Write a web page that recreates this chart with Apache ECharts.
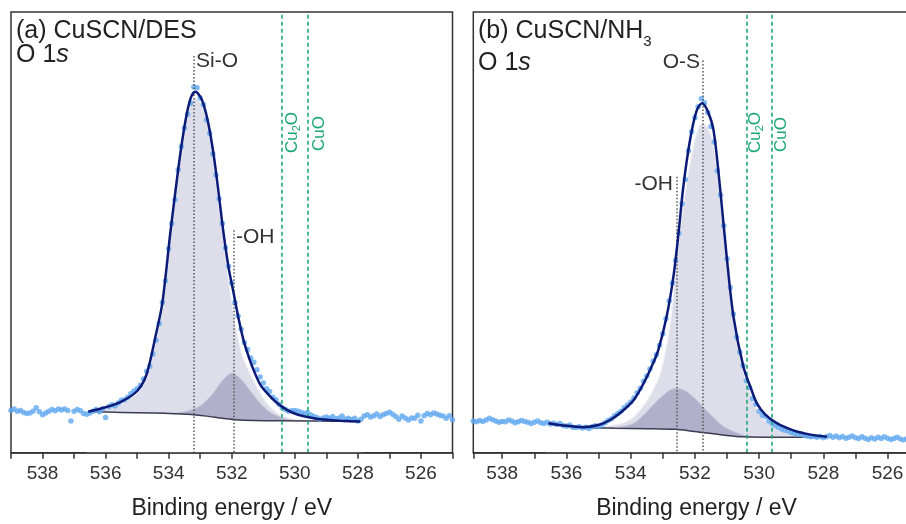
<!DOCTYPE html>
<html>
<head>
<meta charset="utf-8">
<script src="https://cdn.jsdelivr.net/npm/echarts@6/dist/echarts.min.js"></script>
<style>
html,body{margin:0;padding:0;background:#fff;}
#chart{width:906px;height:524px;}
</style>
</head>
<body>
<div id="chart"></div>
<script>
// ---------- DATA (binding energy eV, intensity a.u.) ----------
const tickLabels = [538, 536, 534, 532, 530, 528, 526];

// Panel (a) CuSCN/DES - measured points
const pointsA = [
[539.0,9.6],[538.9,9.9],[538.8,9.4],[538.7,9.6],[538.6,9.1],[538.5,8.9],[538.4,9.0],[538.3,9.4],[538.2,10.2],[538.1,9.3],
[538.0,8.6],[537.9,9.0],[537.8,9.4],[537.7,9.8],[537.6,9.5],[537.5,9.9],[537.4,9.7],[537.3,9.9],[537.2,9.6],[537.1,7.2],
[537.0,9.4],[536.9,9.8],[536.8,9.5],[536.7,8.9],[536.6,8.7],[536.5,9.0],[536.4,9.4],[536.3,9.8],[536.2,9.3],[536.1,9.9],
[536.0,8.0],[535.9,10.4],[535.8,10.9],[535.7,10.6],[535.6,11.3],[535.5,11.9],[535.4,12.0],[535.3,12.6],[535.2,13.4],[535.1,14.0],
[535.0,14.5],[534.9,15.3],[534.8,16.7],[534.7,18.5],[534.6,19.6],[534.5,22.4],[534.4,25.5],[534.3,29.3],[534.2,34.1],[534.1,39.0],
[534.0,46.3],[533.9,52.0],[533.8,57.4],[533.7,64.2],[533.6,69.5],[533.5,73.7],[533.4,76.8],[533.3,79.3],[533.2,83.0],[533.1,82.8],
[533.0,80.5],[532.9,79.0],[532.8,75.5],[532.7,72.5],[532.6,67.8],[532.5,63.0],[532.4,57.6],[532.3,52.0],[532.2,46.5],[532.1,42.3],
[532.0,38.5],[531.9,34.0],[531.8,31.0],[531.7,28.0],[531.6,25.0],[531.5,23.4],[531.4,21.5],[531.3,20.5],[531.2,18.8],[531.1,17.2],
[531.0,15.8],[530.9,14.5],[530.8,13.9],[530.7,12.6],[530.6,12.0],[530.5,11.0],[530.4,10.2],[530.3,9.8],[530.2,9.4],[530.1,9.5],
[530.0,9.6],[529.9,9.4],[529.8,9.2],[529.7,8.9],[529.6,9.1],[529.5,8.6],[529.4,8.2],[529.3,8.0],[529.2,7.6],[529.1,7.9],
[529.0,8.1],[528.9,7.8],[528.8,8.2],[528.7,7.7],[528.6,7.9],[528.5,8.3],[528.4,7.6],[528.3,7.8],[528.2,7.5],[528.1,7.8],
[528.0,7.2],[527.9,7.6],[527.8,8.3],[527.7,8.6],[527.6,8.1],[527.5,8.4],[527.4,8.8],[527.3,8.2],[527.2,8.6],[527.1,8.9],
[527.0,9.2],[526.9,8.7],[526.8,8.2],[526.7,7.6],[526.6,8.3],[526.5,7.9],[526.4,7.4],[526.3,7.9],[526.2,7.8],[526.1,8.5],
[526.0,7.2],[525.9,8.4],[525.8,8.9],[525.7,8.6],[525.6,9.0],[525.5,8.8],[525.4,8.5],[525.3,8.3],[525.2,7.8],[525.1,8.4],[525.0,7.5]
];
const envelopeA = [
[536.55,9.3],[536.0,10.3],[535.5,11.6],[535.0,14.0],[534.7,17.8],[534.4,27],[534.2,34],[533.95,49.8],[533.8,58.5],[533.63,67.9],
[533.45,76],[533.3,80.5],[533.16,81.9],[533.0,80.8],[532.89,78.9],[532.75,75],[532.58,67.9],[532.4,58],[532.26,49.8],[532.1,42],
[531.94,36.2],[531.8,31],[531.63,25.6],[531.45,21.5],[531.31,18.8],[531.1,15.5],[530.88,13.5],[530.6,11.5],[530.25,9.7],[529.9,8.6],
[529.4,7.8],[528.9,7.4],[528.4,7.2],[527.92,7.1]
];
const backgroundA = [
[536.55,9.3],[535.5,9.15],[534.5,9.0],[533.4,8.7],[532.8,8.3],[532.3,7.8],[531.9,7.5],[531.3,7.3],[530.5,7.25],[527.92,7.1]
];
const siOA = [
[536.55,9.3],[536.0,10.1],[535.5,11.3],[535.0,13.5],[534.7,17],[534.4,26],[534.2,32.5],[533.95,49],[533.8,57.5],[533.63,67],
[533.45,75],[533.3,79.5],[533.16,80.5],[533.0,79.5],[532.89,77.8],[532.79,76],[532.58,66],[532.37,54.3],[532.15,42.2],[531.94,31.6],
[531.68,22.5],[531.31,16.5],[530.88,11.2],[530.46,8.6],[530.0,7.6],[529.5,7.3],[528.5,7.2],[527.92,7.15]
];
const ohA = [
[534.5,9.0],[534.0,8.95],[533.5,9.3],[533.0,10.6],[532.6,13.4],[532.3,16.3],[532.0,18.0],[531.7,16.6],[531.4,13.9],[531.1,11.2],
[530.8,9.2],[530.4,7.9],[530.0,7.3],[529.5,7.2]
];

// Panel (b) CuSCN/NH3 - measured points
const pointsB = [
[538.9,7.2],[538.8,7.0],[538.7,7.3],[538.6,7.1],[538.5,7.4],[538.4,7.8],[538.3,7.5],[538.2,7.2],[538.1,6.9],[538.0,7.1],
[537.9,7.0],[537.8,7.4],[537.7,7.2],[537.6,6.8],[537.5,7.0],[537.4,7.3],[537.3,7.1],[537.2,6.9],[537.1,6.6],[537.0,6.9],
[536.9,7.2],[536.8,6.8],[536.7,6.6],[536.6,6.9],[536.5,6.5],[536.4,6.7],[536.3,6.4],[536.2,6.6],[536.1,6.2],[536.0,6.0],
[535.9,6.3],[535.8,5.8],[535.7,5.7],[535.6,5.9],[535.5,5.6],[535.4,5.8],[535.3,5.5],[535.2,5.9],[535.1,6.1],[535.0,6.0],
[534.9,6.3],[534.8,6.8],[534.7,7.3],[534.6,7.7],[534.5,8.4],[534.4,8.9],[534.3,9.4],[534.2,10.2],[534.1,10.8],[534.0,11.5],
[533.9,12.4],[533.8,13.6],[533.7,14.6],[533.6,16.2],[533.5,17.4],[533.4,19.0],[533.3,20.8],[533.2,22.2],[533.1,24.4],[533.0,27.0],
[532.9,30.4],[532.8,34.5],[532.7,38.5],[532.6,43.6],[532.5,49.8],[532.4,56.5],[532.3,62.0],[532.2,68.5],[532.1,72.8],[532.0,76.0],
[531.9,78.5],[531.8,80.3],[531.7,79.4],[531.6,77.2],[531.5,74.0],[531.4,70.5],[531.3,64.0],[531.2,58.5],[531.1,51.5],[531.0,44.0],
[530.9,37.5],[530.8,31.5],[530.7,26.2],[530.6,22.8],[530.5,19.8],[530.4,16.3],[530.3,14.8],[530.2,12.3],[530.1,11.0],[530.0,9.4],
[529.9,8.5],[529.8,8.2],[529.7,7.2],[529.6,6.6],[529.5,6.2],[529.4,5.8],[529.3,5.4],[529.2,5.1],[529.1,4.9],[529.0,4.6],
[528.9,4.4],[528.8,4.2],[528.7,4.3],[528.6,3.9],[528.5,3.8],[528.4,3.6],[528.3,3.7],[528.2,3.5],[528.1,3.7],[528.0,3.4],
[527.9,3.6],[527.8,3.9],[527.7,3.5],[527.6,3.8],[527.5,3.4],[527.4,3.7],[527.3,3.3],[527.2,3.5],[527.1,3.8],[527.0,3.4],
[526.9,3.2],[526.8,3.6],[526.7,3.3],[526.6,3.0],[526.5,3.4],[526.4,3.1],[526.3,3.5],[526.2,3.2],[526.1,3.6],[526.0,3.3],
[525.9,3.0],[525.8,3.2],[525.7,3.5],[525.6,3.1],[525.5,2.9],[525.4,3.2],[525.3,3.0],[525.2,3.3],[525.1,3.1],[525.0,3.2]
];
const envelopeB = [
[536.56,6.7],[536.0,6.1],[535.5,5.8],[535.0,6.3],[534.6,7.6],[534.2,9.8],[533.9,12.0],[533.6,15.7],[533.35,19.5],[533.14,23.3],
[532.88,30.9],[532.67,39.9],[532.51,49.8],[532.36,60.4],[532.15,71],[531.95,77.5],[531.78,79.3],[531.6,77.5],[531.42,73.2],[531.21,59.6],
[531.01,44.5],[530.8,30.9],[530.49,19.5],[530.25,14.5],[530.07,11.2],[529.8,8.6],[529.45,6.7],[529.1,5.5],[528.83,4.8],[528.4,4.1],[527.89,3.6]
];
const backgroundB = [
[536.56,6.7],[536.0,6.05],[535.5,5.7],[534.5,5.55],[533.5,5.45],[532.6,5.3],[532.2,5.0],[531.7,4.5],[531.0,3.9],[530.5,3.6],[529.5,3.5],[527.89,3.5]
];
const oSB = [
[536.0,6.05],[535.0,5.9],[534.5,6.3],[534.0,7.6],[533.71,9.7],[533.4,13],[533.08,18],[532.77,29.4],[532.56,44.5],[532.4,54],
[532.25,61.5],[532.05,69.5],[531.9,73.5],[531.78,74.7],[531.6,73.8],[531.42,70],[531.21,57.5],[531.01,43.3],[530.8,30],[530.49,18.5],
[530.25,13],[530.07,9.8],[529.8,7.2],[529.45,5.5],[529.1,4.5],[528.5,3.8],[527.89,3.5]
];
const ohB = [
[534.6,5.6],[534.2,6.0],[533.9,6.7],[533.6,8.5],[533.3,10.8],[533.0,12.9],[532.8,14.1],[532.56,14.6],[532.3,14.0],[532.0,12.3],
[531.7,10.0],[531.4,7.8],[531.1,5.9],[530.8,4.8],[530.5,4.0],[530.2,3.6]
];

// reference positions (eV) and top of label lines (a.u.)
const peakLinesA = [[533.2, 90], [531.94, 50.5]];
const peakLinesB = [[531.75, 89], [532.56, 62.6]];
const oxideLines = [530.4, 529.6];

// ---------- CHART ----------
const FONT = '"Liberation Sans", Arial, sans-serif';
const chart = echarts.init(document.getElementById('chart'), null, {renderer: 'canvas'});
const GREEN = '#1ea874';

function xAxisCfg(idx, max) {
  return {
    type: 'value', gridIndex: idx, min: 525, max: max, interval: 1, inverse: true, z: 10,
    splitLine: {show: false},
    axisLine: {show: true, onZero: false, lineStyle: {color: '#333', width: 1.5}},
    axisTick: {show: true, inside: false, length: 6, lineStyle: {color: '#333', width: 1.5}},
    axisLabel: {
      color: '#333', fontSize: 19, fontFamily: FONT, margin: 12,
      formatter: v => { const r = Math.round(v); return (Math.abs(v - r) < 1e-6 && tickLabels.includes(r)) ? String(r) : ''; }
    },
    name: 'Binding energy / eV', nameLocation: 'middle', nameGap: 44,
    nameTextStyle: {color: '#222', fontSize: 23, fontFamily: FONT}
  };
}
function yAxisCfg(idx) {
  return {type: 'value', gridIndex: idx, min: 0, max: 100, show: false};
}
// white mask below the background line, a little wider than the fit range
function maskOf(bg) {
  const first = bg[0], last = bg[bg.length - 1];
  return [[first[0] + 0.08, first[1]]].concat(bg, [[last[0] - 0.08, last[1]]]);
}
function panelSeries(i, pts, env, bg, c1, c2, peaks) {
  const line = (data, z, color, width, area) => ({
    type: 'line', xAxisIndex: i, yAxisIndex: i, data: data, z: z, smooth: 0.3,
    symbol: 'none', lineStyle: {color: color, width: width}, areaStyle: area ? {color: area, opacity: 1, origin: 'start'} : undefined,
    silent: true, animation: false
  });
  const s = [];
  s.push(line(c1, 1, '#f4f4f8', 1.2, '#dedeea'));
  s.push(line(c2, 2, '#c4c4d6', 1, 'rgba(130,130,172,0.5)'));
  s.push(line(maskOf(bg), 3, 'rgba(0,0,0,0)', 0, '#ffffff'));
  s.push(line(bg, 3, '#3c3c52', 1.5, null));
  s.push({type: 'scatter', xAxisIndex: i, yAxisIndex: i, data: pts, z: 4, symbolSize: 5.5,
          itemStyle: {color: '#62a9f0'}, clip: true, silent: true, animation: false});
  s.push(line(env, 5, '#0c1a78', 2.5, null));
  const ml = [];
  peaks.forEach(p => ml.push([{coord: [p[0], p[1]]}, {coord: [p[0], 0]}]));
  oxideLines.forEach(x => ml.push({xAxis: x, lineStyle: {color: GREEN, type: [4, 3], width: 1.6}}));
  s.push({type: 'line', xAxisIndex: i, yAxisIndex: i, data: [], z: 6, silent: true, animation: false,
    markLine: {symbol: ['none', 'none'], silent: true, animation: false, label: {show: false},
      lineStyle: {color: '#555', type: [1.5, 2], width: 1.5}, data: ml}});
  return s;
}

const mainRich = (size) => ({fill: '#222', fontSize: size, fontFamily: FONT, lineHeight: size, verticalAlign: 'top'});
const txt = (x, y, text, rich, extra) => Object.assign({type: 'text', x: x, y: y, silent: true, z: 100,
  style: {text: text, rich: rich, verticalAlign: 'top', align: 'left'}}, extra || {});
const oxRich = {
  a: {fill: GREEN, fontSize: 17, fontFamily: FONT, lineHeight: 17, verticalAlign: 'top'},
  s: {fill: GREEN, fontSize: 11, fontFamily: FONT, lineHeight: 11, verticalAlign: 'top', padding: [8, 0, 0, 0]}
};
const annRich = {a: {fill: '#333', fontSize: 21, fontFamily: FONT, lineHeight: 21, verticalAlign: 'top'}};
const T = 25;

chart.setOption({
  animation: false,
  backgroundColor: '#fff',
  grid: [
    {left: 11, top: 12, width: 441.5, height: 440.7, show: true, borderColor: '#333', borderWidth: 1.5, z: 0, outerBoundsMode: 'none', containLabel: false},
    {left: 473.3, top: 12, width: 446.4, height: 440.7, show: true, borderColor: '#333', borderWidth: 1.5, z: 0, outerBoundsMode: 'none', containLabel: false}
  ],
  xAxis: [xAxisCfg(0, 539), xAxisCfg(1, 538.9)],
  yAxis: [yAxisCfg(0), yAxisCfg(1)],
  series: [].concat(
    panelSeries(0, pointsA, envelopeA, backgroundA, siOA, ohA, peakLinesA),
    panelSeries(1, pointsB, envelopeB, backgroundB, oSB, ohB, peakLinesB)
  ),
  graphic: [
    txt(16, 19, '{a|(a) CuSCN/DES}', {a: mainRich(T)}),
    txt(16, 42.5, '{a|O 1}{i|s}', {a: mainRich(T), i: Object.assign(mainRich(T), {fontStyle: 'italic'})}),
    txt(478, 19, '{a|(b) CuSCN/NH}{s|3}', {a: mainRich(T), s: Object.assign(mainRich(15), {padding: [15, 0, 0, 0]})}),
    txt(478, 50.5, '{a|O 1}{i|s}', {a: mainRich(T), i: Object.assign(mainRich(T), {fontStyle: 'italic'})}),
    txt(196, 50.5, '{a|Si-O}', annRich),
    txt(236, 226.5, '{a|-OH}', annRich),
    txt(700, 51.5, '{a|O-S}', annRich, {style: {text: '{a|O-S}', rich: annRich, verticalAlign: 'top', align: 'right'}}),
    txt(673, 173.5, '{a|-OH}', annRich, {style: {text: '{a|-OH}', rich: annRich, verticalAlign: 'top', align: 'right'}}),
    txt(283.5, 153, '{a|Cu}{s|2}{a|O}', oxRich, {rotation: Math.PI / 2}),
    txt(310.5, 151, '{a|CuO}', oxRich, {rotation: Math.PI / 2}),
    txt(746.5, 153, '{a|Cu}{s|2}{a|O}', oxRich, {rotation: Math.PI / 2}),
    txt(772.5, 152, '{a|CuO}', oxRich, {rotation: Math.PI / 2})
  ]
});
</script>
</body>
</html>
